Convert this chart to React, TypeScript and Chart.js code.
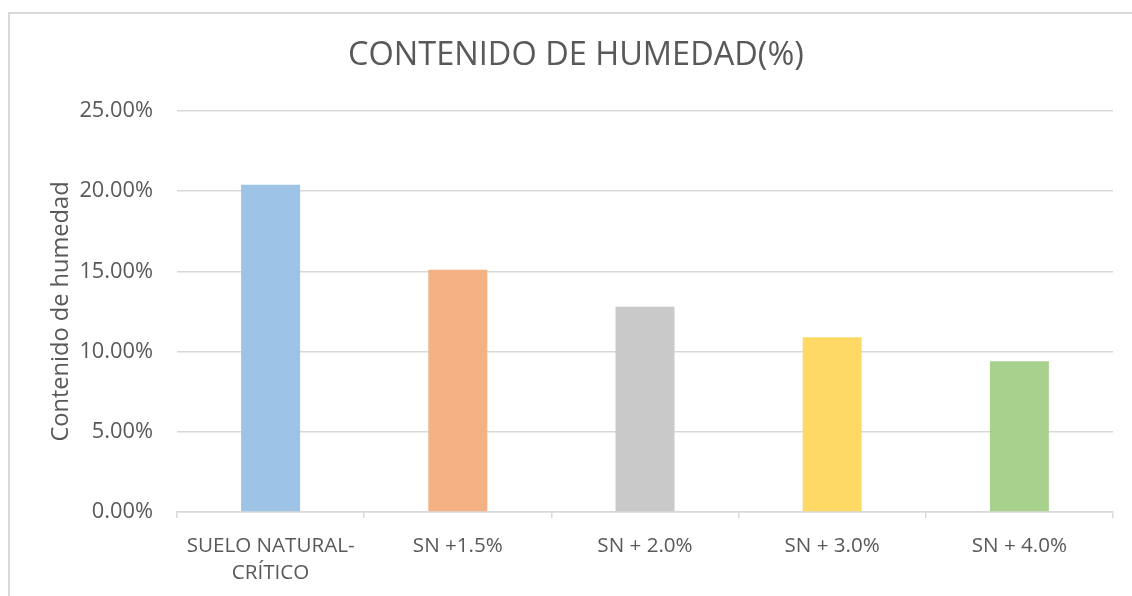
import React, { useEffect, useRef } from "react";
import { Chart, registerables } from "chart.js";

Chart.register(...registerables);

const categories: (string | string[])[] = [
  ["SUELO NATURAL-", "CRÍTICO"],
  "SN +1.5%",
  "SN + 2.0%",
  "SN + 3.0%",
  "SN + 4.0%",
];
const moistureValues = [20.4, 15.1, 12.8, 10.9, 9.4];
const barColors = ["#9DC3E6", "#F4B183", "#C9C9C9", "#FFD966", "#A9D18E"];
const yMin = 0;
const yMax = 25;
const yStep = 5;
const chartTitle = "CONTENIDO DE HUMEDAD(%)";
const yAxisTitle = "Contenido de humedad";

const FONT = "'Open Sans', 'DejaVu Sans', sans-serif";
const TEXT = "#595959";
const GRID = "#D9D9D9";

export default function App() {
  const canvasRef = useRef<HTMLCanvasElement | null>(null);

  useEffect(() => {
    const canvas = canvasRef.current;
    if (!canvas) return;
    const chart = new Chart(canvas, {
      type: "bar",
      data: {
        labels: categories,
        datasets: [
          {
            label: yAxisTitle,
            data: moistureValues,
            backgroundColor: barColors,
            borderWidth: 0,
            barPercentage: 0.315,
            categoryPercentage: 1,
          },
        ],
      },
      options: {
        responsive: false,
        animation: false,
        devicePixelRatio: 1,
        layout: { padding: { left: 39, right: 19, top: 0, bottom: 0 } },
        plugins: {
          legend: { display: false },
          tooltip: { enabled: false },
          title: {
            display: true,
            text: chartTitle,
            color: TEXT,
            font: { family: FONT, size: 32.5, weight: "normal", lineHeight: 1.2 },
            padding: { top: 36, bottom: 36 },
          },
        },
        scales: {
          x: {
            grid: {
              display: true,
              drawOnChartArea: false,
              drawTicks: true,
              tickLength: 6,
              color: GRID,
              lineWidth: 1.5,
              offset: true,
            },
            border: { display: true, color: GRID, width: 1.5 },
            ticks: {
              color: TEXT,
              font: { family: FONT, size: 20.6, lineHeight: 1.31 },
              padding: 14.5,
              maxRotation: 0,
              autoSkip: false,
            },
            afterFit: (scale: any) => {
              scale.height = 84;
            },
          },
          y: {
            min: yMin,
            max: yMax,
            grid: { color: GRID, lineWidth: 1.5, drawTicks: false },
            border: { display: false },
            ticks: {
              stepSize: yStep,
              color: TEXT,
              font: { family: FONT, size: 21.8 },
              padding: 24,
              callback: (v: any) => Number(v).toFixed(2) + "%",
            },
            title: {
              display: true,
              text: yAxisTitle,
              color: TEXT,
              font: { family: FONT, size: 23.6, lineHeight: 1.2 },
              padding: { top: 8, bottom: 0 },
            },
            afterFit: (scale: any) => {
              scale.width = 138;
            },
          },
        },
      },
    });
    return () => chart.destroy();
  }, []);

  return (
    <div
      style={{
        position: "fixed",
        left: 0,
        top: 0,
        width: 1132,
        height: 596,
        overflow: "hidden",
        background: "#ffffff",
      }}
    >
      <div
        style={{
          position: "absolute",
          left: 8,
          top: 12,
          width: 1300,
          height: 800,
          border: `2px solid ${GRID}`,
          boxSizing: "border-box",
          pointerEvents: "none",
        }}
      />
      <canvas
        ref={canvasRef}
        width={1132}
        height={596}
        style={{ position: "absolute", left: 0, top: 0, width: 1132, height: 596, display: "block" }}
      />
    </div>
  );
}
